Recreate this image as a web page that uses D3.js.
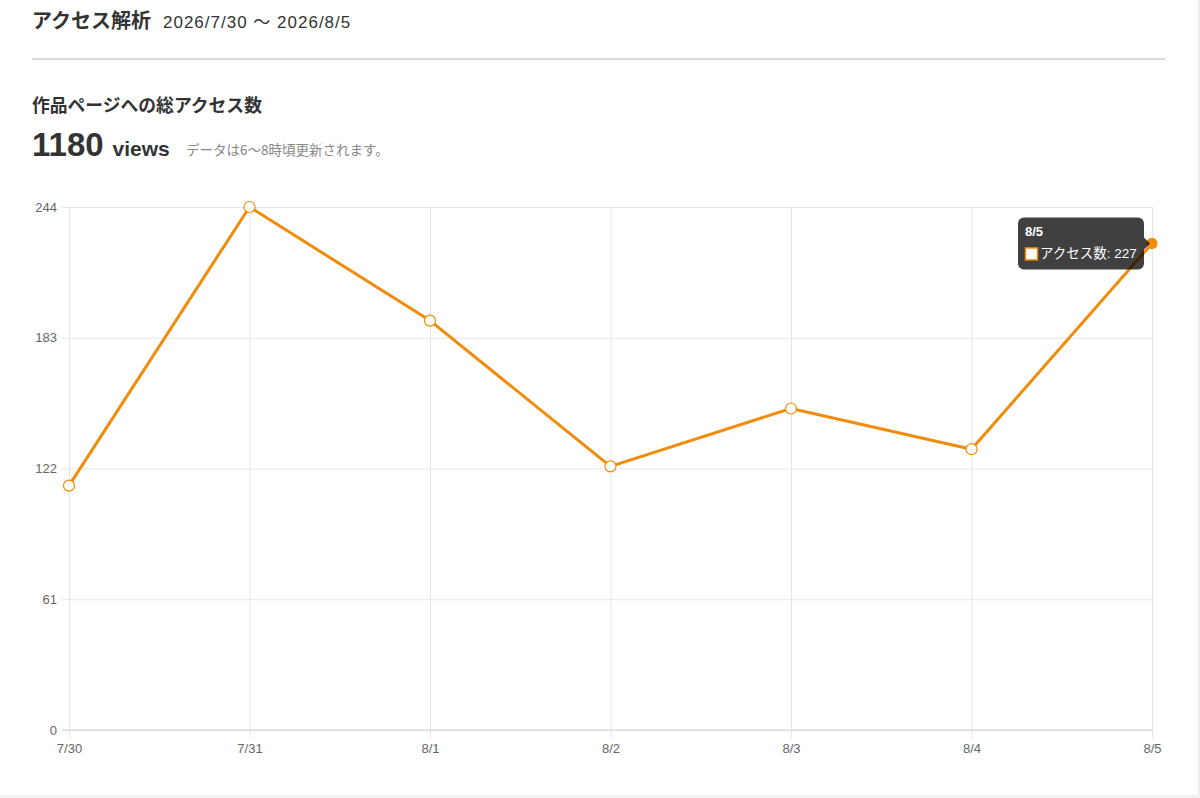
<!DOCTYPE html>
<html><head><meta charset="utf-8">
<script src="https://cdn.jsdelivr.net/npm/d3@7/dist/d3.min.js"></script>
<style>
html,body{margin:0;padding:0;background:#f2f2f2;}
body{width:1200px;height:798px;overflow:hidden;font-family:"Noto Sans CJK JP","Noto Sans",sans-serif;}
#card{position:absolute;left:0;top:0;width:1198px;height:795px;background:#fff;border-right:1px solid #e8e8e8;}
svg{position:absolute;left:0;top:0;}
</style></head>
<body><div id="card"></div>
<svg id="chart" width="1200" height="798"></svg>
<script>
const categories = ["7/30","7/31","8/1","8/2","8/3","8/4","8/5"];
const views = [114,244,191,123,150,131,227];
const yTicks = [0,61,122,183,244];
const seriesName = "アクセス数";
const hoverIndex = 6;

const svg = d3.select("#chart");
const font = '"Noto Sans CJK JP","Noto Sans",sans-serif';
const latin = 'Helvetica,"Liberation Sans",Arial,"Noto Sans CJK JP",sans-serif';

// Header
svg.append("text").attr("x",32).attr("y",28).attr("font-family",font).attr("font-weight","bold")
  .attr("font-size",20).attr("fill","#333").text("アクセス解析");
svg.append("text").attr("x",163).attr("y",28).attr("font-family",latin).attr("letter-spacing",1)
  .attr("font-size",17).attr("fill","#333").text("2026/7/30 〜 2026/8/5");
svg.append("line").attr("x1",32).attr("x2",1165).attr("y1",59).attr("y2",59)
  .attr("stroke","#d9d9d9").attr("stroke-width",2);
svg.append("text").attr("x",32).attr("y",112).attr("font-family",font).attr("font-weight","bold")
  .attr("font-size",17.8).attr("fill","#333").text("作品ページへの総アクセス数");
const tot = svg.append("text").attr("x",32).attr("y",156).attr("font-family",latin).attr("fill","#333");
tot.append("tspan").attr("font-size",33).attr("font-weight","bold").text(d3.sum(views));
tot.append("tspan").attr("font-size",21).attr("font-weight","bold").attr("dx",9).text("views");
svg.append("text").attr("x",186).attr("y",155).attr("font-family",font)
  .attr("font-size",13.5).attr("fill","#888").text("データは6〜8時頃更新されます。");

// Chart
const x = d3.scalePoint().domain(categories).range([69,1152]);
const y = d3.scaleLinear().domain([0,244]).range([730,207]);
const g = svg.append("g");

// horizontal grid
g.append("g").attr("transform","translate(69,0)")
  .call(d3.axisLeft(y).tickValues(yTicks).tickSize(-1083).tickPadding(12).tickSizeOuter(0))
  .call(a=>a.select(".domain").remove())
  .call(a=>a.selectAll(".tick line").attr("stroke","#e6e6e6").attr("x1",-7))
  .call(a=>a.selectAll(".tick text").attr("fill","#666").attr("font-size",13).attr("font-family",latin));
// vertical grid
g.append("g").attr("transform","translate(0,730)")
  .call(d3.axisBottom(x).tickSize(-523).tickPadding(14).tickSizeOuter(0))
  .call(a=>a.select(".domain").remove())
  .call(a=>a.selectAll(".tick line").attr("stroke","#e6e6e6").attr("y1",8))
  .call(a=>a.selectAll(".tick text").attr("fill","#666").attr("font-size",13).attr("font-family",latin));
// zero line
g.append("line").attr("x1",62).attr("x2",1152).attr("y1",y(0)).attr("y2",y(0)).attr("stroke","#d6d6d6");

const line = d3.line().x((d,i)=>x(categories[i])).y(d=>y(d));
g.append("path").datum(views).attr("d",line).attr("fill","none")
  .attr("stroke","#f08c0a").attr("stroke-width",3).attr("stroke-linejoin","round");
g.selectAll("circle.pt").data(views).join("circle").attr("class","pt")
  .attr("cx",(d,i)=>x(categories[i])).attr("cy",d=>y(d))
  .attr("r",(d,i)=>i===hoverIndex?5:5.5)
  .attr("fill",(d,i)=>i===hoverIndex?"#f08c0a":"#fff")
  .attr("stroke","#f08c0a").attr("stroke-width",1.2);

// tooltip
const px = x(categories[hoverIndex]), py = y(views[hoverIndex]);
const tw = 126, th = 52;
const tx = px - 8 - tw, ty = py - 26;
const tt = svg.append("g");
tt.append("rect").attr("x",tx).attr("y",ty).attr("width",tw).attr("height",th).attr("rx",6)
  .attr("fill","rgba(0,0,0,0.75)");
tt.append("path").attr("d",`M${tx+tw},${py-6}L${tx+tw+6},${py}L${tx+tw},${py+6}Z`).attr("fill","rgba(0,0,0,0.75)");
tt.append("text").attr("x",tx+7).attr("y",ty+19).attr("font-family",latin).attr("font-weight","bold")
  .attr("font-size",13).attr("fill","#fff").text(categories[hoverIndex]);
tt.append("rect").attr("x",tx+7.5).attr("y",ty+30.5).attr("width",12).attr("height",12)
  .attr("fill","#fff").attr("stroke","#f08c0a").attr("stroke-width",1.5);
tt.append("text").attr("x",tx+22).attr("y",ty+41).attr("font-family",latin)
  .attr("font-size",13.5).attr("fill","#fff").text(`${seriesName}: ${views[hoverIndex]}`);
</script></body></html>
